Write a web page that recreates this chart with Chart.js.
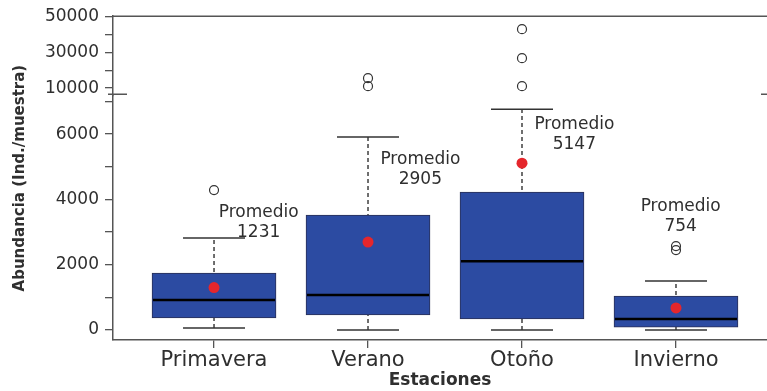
<!DOCTYPE html>
<html>
<head>
<meta charset="utf-8">
<script src="https://cdn.jsdelivr.net/npm/chart.js@4.4.1/dist/chart.umd.min.js"></script>
<style>
html, body { margin: 0; padding: 0; background: #fff; }
#wrap { width: 767px; height: 391px; }
</style>
</head>
<body>
<div id="wrap"><canvas id="chart" width="767" height="391"></canvas></div>
<script>
// datos
const seasons = ['Primavera', 'Verano', 'Otoño', 'Invierno'];
const whiskerLow = [60, 0, 0, 0];
const q1 = [370, 460, 340, 90];
const median = [920, 1070, 2110, 340];
const q3 = [1745, 3520, 4225, 1040];
const whiskerHigh = [2815, 5910, 6765, 1500];
const means = [1300, 2695, 5110, 675];
const meanLabels = ['1231', '2905', '5147', '754'];
const lowOutliers = [[4285], [], [], [2570, 2450]];
const highOutliers = [[], [15550, 11100], [42780, 26660, 11100], []];
const lowerTicks = [0, 1000, 2000, 3000, 4000, 5000, 6000, 7000];
const upperTicks = [10000, 20000, 30000, 40000, 50000];
const upperLabels = [10000, 30000, 50000];

// donde va el texto "Promedio" (x categoria, y en el eje inferior)
const noteAnchors = [[1.29, 3610], [2.34, 5235], [3.34, 6305], [4.03, 3795]];

const FONT = "'DejaVu Sans', sans-serif";
const TEXT = '#2f2f2f';
const AXIS = '#555';

const boxParts = {
  id: 'boxParts',
  beforeDatasetsDraw(chart) {
    const { ctx } = chart;
    const x = chart.scales.x, y = chart.scales.y;
    ctx.save();
    seasons.forEach((s, i) => {
      const cx = x.getPixelForValue(i + 1);
      ctx.strokeStyle = '#222';
      ctx.lineWidth = 1.3;
      ctx.setLineDash([4, 3]);
      ctx.beginPath();
      ctx.moveTo(cx, y.getPixelForValue(whiskerLow[i]));
      ctx.lineTo(cx, y.getPixelForValue(whiskerHigh[i]));
      ctx.stroke();
      ctx.setLineDash([]);
      ctx.strokeStyle = '#333';
      ctx.lineWidth = 1.5;
      [whiskerLow[i], whiskerHigh[i]].forEach(v => {
        const py = y.getPixelForValue(v);
        ctx.beginPath();
        ctx.moveTo(cx - 31, py);
        ctx.lineTo(cx + 31, py);
        ctx.stroke();
      });
    });
    ctx.restore();
  },
  afterDatasetDraw(chart, args) {
    if (args.index !== 0) return;
    const { ctx } = chart;
    const y = chart.scales.y;
    const bars = chart.getDatasetMeta(0).data;
    ctx.save();
    ctx.strokeStyle = '#000';
    ctx.lineWidth = 2.5;
    bars.forEach((bar, i) => {
      const py = y.getPixelForValue(median[i]);
      ctx.beginPath();
      ctx.moveTo(bar.x - bar.width / 2 + 1, py);
      ctx.lineTo(bar.x + bar.width / 2 - 1, py);
      ctx.stroke();
    });
    ctx.restore();
  },
  afterDraw(chart) {
    const { ctx, chartArea } = chart;
    const x = chart.scales.x, y = chart.scales.y, y2 = chart.scales.y2;
    ctx.save();
    // marco superior
    ctx.strokeStyle = AXIS;
    ctx.lineWidth = 1.5;
    ctx.beginPath();
    ctx.moveTo(chartArea.left, chartArea.top);
    ctx.lineTo(chartArea.right, chartArea.top);
    ctx.stroke();
    // marcas de corte del eje
    const by = y2.bottom - 1;
    ctx.beginPath();
    ctx.moveTo(chartArea.left - 5, by);
    ctx.lineTo(chartArea.left + 14, by);
    ctx.moveTo(chartArea.right - 6, by);
    ctx.lineTo(chartArea.right, by);
    ctx.stroke();
    // textos de promedio
    ctx.fillStyle = TEXT;
    ctx.font = '17px ' + FONT;
    ctx.textAlign = 'center';
    ctx.textBaseline = 'middle';
    noteAnchors.forEach((a, i) => {
      const px = x.getPixelForValue(a[0]);
      const py = y.getPixelForValue(a[1]);
      ctx.fillText('Promedio', px, py);
      ctx.fillText(meanLabels[i], px, py + 20);
    });
    // titulo eje y
    ctx.font = 'bold 15px ' + FONT;
    ctx.translate(20, (chartArea.top + chartArea.bottom) / 2);
    ctx.rotate(-Math.PI / 2);
    ctx.fillText('Abundancia (Ind./muestra)', 0, 0);
    ctx.restore();
  }
};

const tickGrid = { drawOnChartArea: false, drawTicks: true, tickLength: 8, color: AXIS, lineWidth: 1.3 };
const axisBorder = { color: AXIS, width: 1.5 };

new Chart(document.getElementById('chart'), {
  type: 'bar',
  data: {
    datasets: [
      {
        type: 'bar',
        data: seasons.map((s, i) => ({ x: i + 1, y: [q1[i], q3[i]] })),
        backgroundColor: '#2c4ba2',
        borderColor: '#2a2f55',
        borderWidth: 1,
        borderSkipped: false,
        barThickness: 124,
        yAxisID: 'y',
        order: 3
      },
      {
        type: 'scatter',
        data: lowOutliers.flatMap((arr, i) => arr.map(v => ({ x: i + 1, y: v }))),
        yAxisID: 'y',
        pointStyle: 'circle',
        pointRadius: 4.5,
        borderColor: '#333',
        borderWidth: 1.2,
        backgroundColor: 'rgba(0,0,0,0)',
        order: 1
      },
      {
        type: 'scatter',
        data: highOutliers.flatMap((arr, i) => arr.map(v => ({ x: i + 1, y: v }))),
        yAxisID: 'y2',
        pointStyle: 'circle',
        pointRadius: 4.5,
        borderColor: '#333',
        borderWidth: 1.2,
        backgroundColor: 'rgba(0,0,0,0)',
        order: 1
      },
      {
        type: 'scatter',
        data: means.map((m, i) => ({ x: i + 1, y: m })),
        yAxisID: 'y',
        pointRadius: 5.5,
        borderWidth: 0,
        backgroundColor: '#e5262c',
        order: 0
      }
    ]
  },
  options: {
    responsive: false,
    animation: false,
    events: [],
    layout: { autoPadding: false, padding: { top: 16, right: 0, bottom: 0, left: 0 } },
    plugins: { legend: { display: false }, tooltip: { enabled: false } },
    scales: {
      x: {
        type: 'linear',
        offset: false,
        min: 0.344,
        max: 4.591,
        afterBuildTicks: s => { s.ticks = seasons.map((_, i) => ({ value: i + 1 })); },
        afterFit: s => { s.height = 51; s.paddingLeft = 0; s.paddingRight = 0; },
        grid: Object.assign({}, tickGrid, { offset: false }),
        border: axisBorder,
        ticks: {
          autoSkip: false, maxRotation: 0, padding: 0,
          font: { family: FONT, size: 21 }, color: TEXT,
          callback: v => seasons[v - 1]
        },
        title: {
          display: true, text: 'Estaciones', color: TEXT,
          font: { family: FONT, size: 17, weight: 'bold' },
          padding: { top: 0, bottom: 0 }
        }
      },
      y: {
        type: 'linear',
        position: 'left',
        stack: 'abund',
        stackWeight: 245,
        min: -306,
        max: 7194,
        afterBuildTicks: s => { s.ticks = lowerTicks.map(v => ({ value: v })); },
        afterFit: s => { s.width = 113; },
        grid: tickGrid,
        border: axisBorder,
        ticks: {
          autoSkip: false, padding: 6,
          font: { family: FONT, size: 17 }, color: TEXT,
          callback: v => (v % 2000 === 0 ? String(v) : '')
        }
      },
      y2: {
        type: 'linear',
        position: 'left',
        stack: 'abund',
        stackWeight: 79,
        min: 6100,
        max: 50000,
        afterBuildTicks: s => { s.ticks = upperTicks.map(v => ({ value: v })); },
        afterFit: s => { s.width = 113; },
        grid: tickGrid,
        border: axisBorder,
        ticks: {
          autoSkip: false, padding: 6,
          font: { family: FONT, size: 17 }, color: TEXT,
          callback: v => (upperLabels.includes(v) ? String(v) : '')
        }
      }
    }
  },
  plugins: [boxParts]
});
</script>
</body>
</html>
